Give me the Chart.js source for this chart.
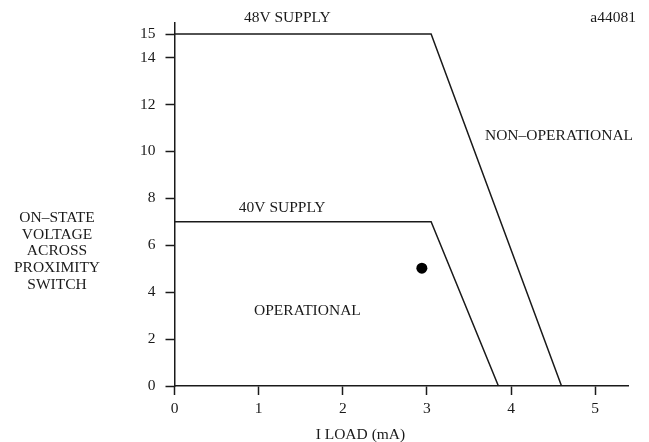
<!DOCTYPE html>
<html>
<head>
<meta charset="utf-8">
<script src="https://cdn.jsdelivr.net/npm/chart.js@4"></script>
<style>
  html, body { margin: 0; padding: 0; background: #fff; }
  #chart { display: block; }
</style>
</head>
<body>
<canvas id="chart" width="649" height="442"></canvas>
<script>
// datos
const xTicks = [0, 1, 2, 3, 4, 5];
const yTicks = [0, 2, 4, 6, 8, 10, 12, 14, 15];
const supply48X = [0, 3.05, 4.6];
const supply48Y = [15, 15, 0];
const supply40X = [0, 3.05, 3.85];
const supply40Y = [7, 7, 0];
const pointX = [2.94];
const pointY = [5.02];
const yTitleLines = ['ON\u2013STATE', 'VOLTAGE', 'ACROSS', 'PROXIMITY', 'SWITCH'];

const FONT = '"Liberation Serif", "Times New Roman", serif';
const SIZE = 15.5;
const INK = '#1a1a1a';

const toPts = (xs, ys) => xs.map((x, i) => ({ x: x, y: ys[i] }));

// textos sobre el grafico
const labelsPlugin = {
  id: 'labels',
  afterDraw(chart) {
    const { ctx, scales: { x, y } } = chart;
    ctx.save();
    ctx.fillStyle = INK;
    ctx.font = SIZE + 'px ' + FONT;
    ctx.textBaseline = 'middle';
    ctx.textAlign = 'center';
    ctx.fillText('48V SUPPLY', x.getPixelForValue(1.34), y.getPixelForValue(15.67));
    ctx.fillText('40V SUPPLY', x.getPixelForValue(1.28), y.getPixelForValue(7.6));
    ctx.fillText('OPERATIONAL', x.getPixelForValue(1.58), y.getPixelForValue(3.18));
    ctx.fillText('NON\u2013OPERATIONAL', x.getPixelForValue(4.57), y.getPixelForValue(10.64));
    ctx.fillText('I LOAD (mA)', x.getPixelForValue(2.21), 435);
    ctx.textAlign = 'right';
    ctx.fillText('a44081', 636, 18);
    ctx.textAlign = 'center';
    yTitleLines.forEach((line, i) => ctx.fillText(line, 57, 218 + i * 16.7));
    ctx.restore();
  }
};

new Chart(document.getElementById('chart'), {
  type: 'scatter',
  data: {
    datasets: [
      {
        label: '48V SUPPLY',
        data: toPts(supply48X, supply48Y),
        showLine: true,
        borderColor: INK,
        borderWidth: 1.5,
        pointRadius: 0,
        tension: 0
      },
      {
        label: '40V SUPPLY',
        data: toPts(supply40X, supply40Y),
        showLine: true,
        borderColor: INK,
        borderWidth: 1.5,
        pointRadius: 0,
        tension: 0
      },
      {
        label: 'punto',
        data: toPts(pointX, pointY),
        pointRadius: 5.5,
        pointBackgroundColor: '#000',
        pointBorderColor: '#000',
        borderWidth: 0
      }
    ]
  },
  options: {
    responsive: false,
    animation: false,
    devicePixelRatio: 1,
    layout: { padding: { left: 0, top: 23, right: 21, bottom: 0 } },
    plugins: {
      legend: { display: false },
      tooltip: { enabled: false }
    },
    scales: {
      x: {
        type: 'linear',
        min: 0,
        max: 5.39,
        afterBuildTicks: (scale) => { scale.ticks = xTicks.map(v => ({ value: v })); },
        afterFit: (scale) => { scale.height = 56; },
        grid: {
          drawOnChartArea: false,
          drawTicks: true,
          tickLength: 9,
          tickWidth: 1.5,
          color: INK
        },
        border: { display: true, color: INK, width: 1.5 },
        ticks: {
          color: INK,
          padding: 5,
          maxRotation: 0,
          autoSkip: false,
          font: { family: FONT, size: SIZE }
        }
      },
      y: {
        type: 'linear',
        min: 0,
        max: 15.47,
        afterBuildTicks: (scale) => { scale.ticks = yTicks.map(v => ({ value: v })); },
        afterFit: (scale) => { scale.width = 174.5; },
        grid: {
          drawOnChartArea: false,
          drawTicks: true,
          tickLength: 9,
          tickWidth: 1.5,
          color: INK
        },
        border: { display: true, color: INK, width: 1.5 },
        ticks: {
          color: INK,
          padding: 10,
          autoSkip: false,
          font: { family: FONT, size: SIZE }
        }
      }
    }
  },
  plugins: [labelsPlugin]
});
</script>
</body>
</html>
